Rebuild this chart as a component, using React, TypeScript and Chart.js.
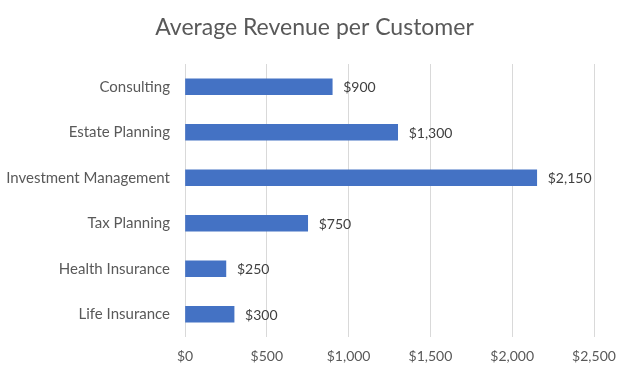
import React, { useEffect, useRef } from "react";
import { Chart, registerables } from "chart.js";

Chart.register(...registerables);

const categories = [
  "Consulting",
  "Estate Planning",
  "Investment Management",
  "Tax Planning",
  "Health Insurance",
  "Life Insurance",
];
const revenue = [900, 1300, 2150, 750, 250, 300];
const xTicks = [0, 500, 1000, 1500, 2000, 2500];
const chartTitle = "Average Revenue per Customer";

const fmt = (v: number) => "$" + v.toLocaleString("en-US");

const FONT = "Lato, 'Open Sans', sans-serif";

const labelPlugin = {
  id: "barLabels",
  afterDatasetsDraw(chart: any) {
    const ctx = chart.ctx;
    const meta = chart.getDatasetMeta(0);
    ctx.save();
    ctx.font = `14px ${FONT}`;
    ctx.fillStyle = "#404040";
    ctx.textAlign = "left";
    ctx.textBaseline = "middle";
    meta.data.forEach((bar: any, i: number) => {
      ctx.fillText(fmt(revenue[i]), bar.x + 11, bar.y + 1);
    });
    ctx.restore();
  },
};

const titlePlugin = {
  id: "centeredTitle",
  afterDraw(chart: any) {
    const ctx = chart.ctx;
    ctx.save();
    ctx.font = `23px ${FONT}`;
    ctx.fillStyle = "#595959";
    ctx.textAlign = "center";
    ctx.textBaseline = "middle";
    ctx.fillText(chartTitle, chart.width / 2, 28);
    ctx.restore();
  },
};

export default function App() {
  const ref = useRef<HTMLCanvasElement>(null);
  useEffect(() => {
    document.body.style.margin = "0";
    const chart = new Chart(ref.current!, {
      type: "bar",
      data: {
        labels: categories,
        datasets: [
          {
            data: revenue,
            backgroundColor: "#4472c4",
            barThickness: 16,
          },
        ],
      },
      options: {
        indexAxis: "y",
        animation: false,
        responsive: false,
        layout: { padding: { left: 0, right: 35, top: 64, bottom: 8 } },
        plugins: {
          legend: { display: false },
          tooltip: { enabled: false },
          title: { display: false },
        },
        scales: {
          x: {
            min: 0,
            max: 2500,
            afterBuildTicks: (axis: any) => {
              axis.ticks = xTicks.map((v) => ({ value: v }));
            },
            afterFit: (axis: any) => {
              axis.height = 30;
            },
            grid: { color: "#d9d9d9", drawTicks: false },
            border: { display: false },
            ticks: {
              color: "#595959",
              font: { family: FONT, size: 14 },
              padding: 11,
              callback: (v: any) => fmt(Number(v)),
            },
          },
          y: {
            afterFit: (axis: any) => {
              axis.width = 185;
            },
            grid: { display: false, drawTicks: false },
            border: { display: false },
            ticks: {
              color: "#595959",
              font: { family: FONT, size: 15 },
              padding: 15,
            },
          },
        },
      },
      plugins: [labelPlugin, titlePlugin],
    });
    return () => chart.destroy();
  }, []);
  return <canvas ref={ref} width={629} height={375} style={{ display: "block" }} />;
}
